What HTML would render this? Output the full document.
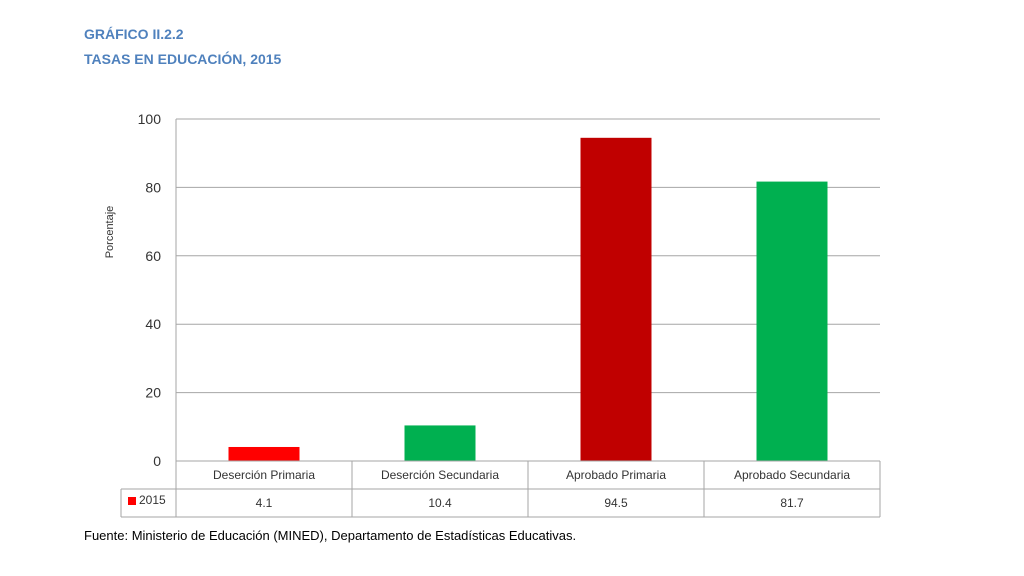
<!DOCTYPE html>
<html><head><meta charset="utf-8"><style>
body{margin:0;background:#fff;width:1024px;height:576px;overflow:hidden;font-family:"Liberation Sans",sans-serif}
.t{position:absolute;left:84px;color:#4f81bd;font-weight:bold;font-size:14px}
</style></head><body>
<div class="t" style="top:26px">GRÁFICO II.2.2</div>
<div class="t" style="top:51px">TASAS EN EDUCACIÓN, 2015</div>
<svg id="c" width="1024" height="576" style="position:absolute;left:0;top:0"></svg>
<div style="position:absolute;left:84px;top:528px;font-size:13px;color:#000">Fuente: Ministerio de Educación (MINED), Departamento de Estadísticas Educativas.</div>
<script>
const categories=["Deserción Primaria","Deserción Secundaria","Aprobado Primaria","Aprobado Secundaria"];
const values=[4.1,10.4,94.5,81.7];
const valueLabels=["4.1","10.4","94.5","81.7"];
const colors=["#ff0000","#00b050","#c00000","#00b050"];
const ticks=[0,20,40,60,80,100];
const NS="http://www.w3.org/2000/svg",svg=document.getElementById('c');
const X0=176,X1=880,Y0=461,Y1=119;
const y=v=>Y0-(v/100)*(Y0-Y1);
const cw=(X1-X0)/categories.length;
const x=i=>X0+i*cw;
function mk(t,a,txt){const e=document.createElementNS(NS,t);for(const k in a)e.setAttribute(k,a[k]);if(txt!=null)e.textContent=txt;svg.appendChild(e);return e;}
ticks.forEach(v=>{
 const g=mk('line',{x1:X0,x2:X1,y1:y(v),y2:y(v),stroke:'#a6a6a6','stroke-width':1});
 
 
 const t=mk('text',{x:161,y:y(v)+5,'text-anchor':'end','font-size':14,fill:'#333'},v);
 
 
});
const ax=mk('line',{x1:X0,x2:X0,y1:Y1,y2:Y0,stroke:'#a6a6a6'});


const yt=mk('text',{x:113,y:232,'text-anchor':'middle','font-size':11,fill:'#333',transform:'rotate(-90 113 232)'},'Porcentaje');


values.forEach((v,i)=>{
 const bw=71,bx=x(i)+cw/2-bw/2;
 const b=mk('rect',{x:bx,y:y(v),width:bw,height:Y0-y(v),fill:colors[i]});
 
 
});
// table
const R1=489,R2=517,TL=121;
[[X0,Y0,X1,Y0],[TL,R1,X1,R1],[TL,R2,X1,R2],[TL,R1,TL,R2],[X1,Y0,X1,R2]].forEach(l=>{
 const e=mk('line',{x1:l[0],y1:l[1],x2:l[2],y2:l[3],stroke:'#a6a6a6'});
 
 
});
categories.forEach((c,i)=>{
 const e=mk('line',{x1:x(i),x2:x(i),y1:Y0,y2:R2,stroke:'#a6a6a6'});
 
 
 const t=mk('text',{x:x(i)+cw/2,y:479,'text-anchor':'middle','font-size':12,fill:'#333'},c);
 
 
 const v=mk('text',{x:x(i)+cw/2,y:507,'text-anchor':'middle','font-size':12,fill:'#333'},valueLabels[i]);
 
 
});
const lk=mk('rect',{x:128,y:497,width:8,height:8,fill:'#ff0000'});


const lt=mk('text',{x:139,y:504,'font-size':12,fill:'#333'},'2015');


</script>
</body></html>
